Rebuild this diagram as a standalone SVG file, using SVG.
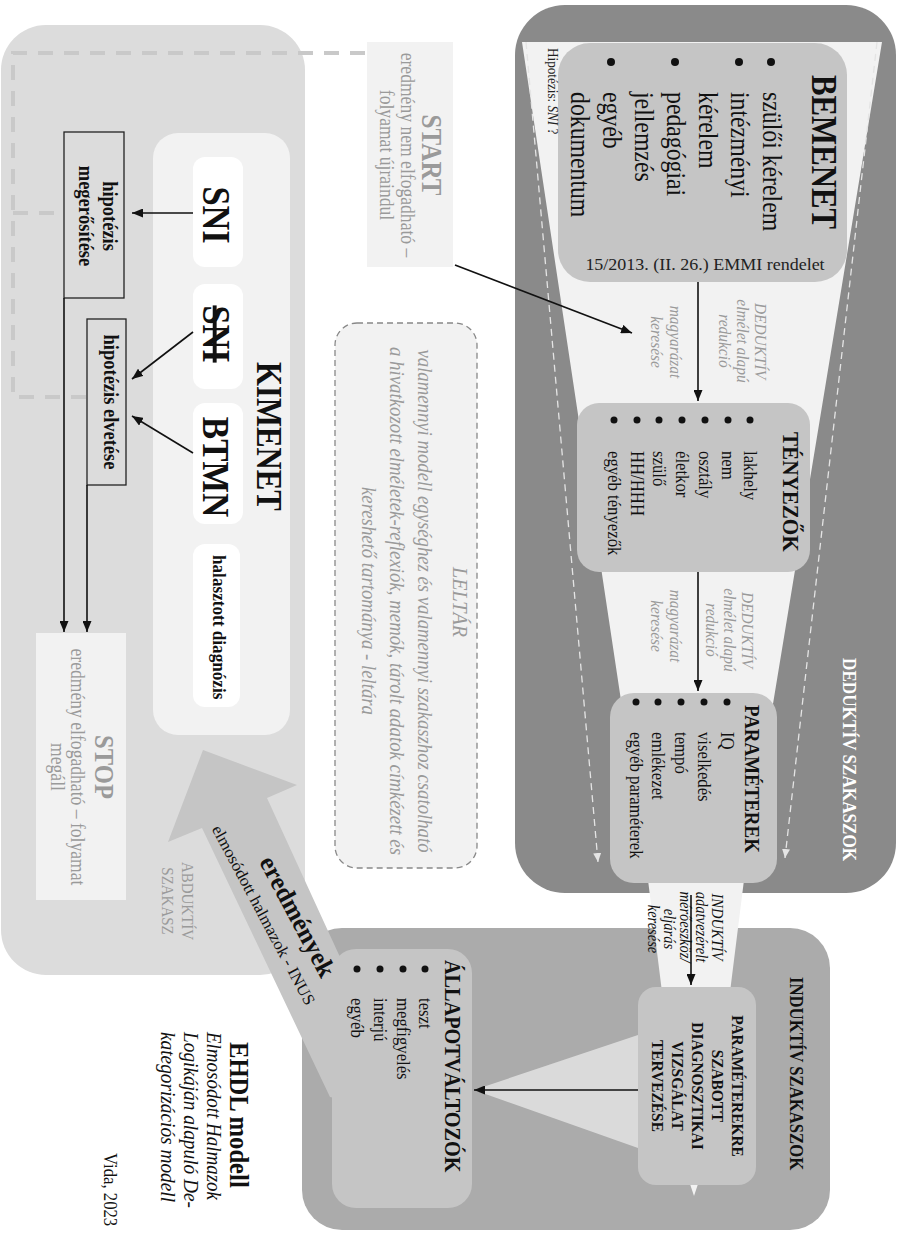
<svg xmlns="http://www.w3.org/2000/svg" width="899" height="1234" viewBox="0 0 899 1234">
<style>
.t{font-family:"Liberation Serif","Times New Roman",serif}
.b{font-weight:bold}
.i{font-style:italic}
.g{fill:#9a9a9a}
.k{fill:#111}
.ln{stroke:#111;stroke-width:1.6;fill:none}
.wd{stroke:#e4e4e4;stroke-width:1.3;stroke-dasharray:7 5;fill:none}
.gd{stroke:#c9c9c9;stroke-width:4;stroke-dasharray:15 11;fill:none}
.node{fill:#c5c5c5}
.wbox{fill:#ffffff}
.hbox{fill:none;stroke:#222;stroke-width:1.3}
</style>
<defs>
<marker id="ah" viewBox="0 0 11 9" refX="11" refY="4.5" markerWidth="11" markerHeight="9" markerUnits="userSpaceOnUse" orient="auto"><path d="M0,0 L11,4.5 L0,9 z" fill="#111"/></marker>
<marker id="wah" viewBox="0 0 9 8" refX="9" refY="4" markerWidth="9" markerHeight="8" markerUnits="userSpaceOnUse" orient="auto"><path d="M0,0 L9,4 L0,8 z" fill="#e4e4e4"/></marker>
</defs>

<!-- ABDUKTIV phase background -->
<g id="abduktiv-phase">
<rect x="1" y="25" width="304" height="950" rx="45" fill="#dcdcdc"/>
<text class="t g" font-size="17" text-anchor="middle" transform="translate(182 901) rotate(90) scale(.88 1)">ABDUKTÍV</text>
<text class="t g" font-size="17" text-anchor="middle" transform="translate(162 901) rotate(90) scale(.88 1)">SZAKASZ</text>
</g>

<!-- DEDUKTIV phase -->
<g id="deduktiv-phase">
<rect x="515" y="5" width="381" height="888" rx="50" fill="#8a8a8a"/>
<text class="t b" font-size="19.5" fill="#fff" transform="translate(843 658) rotate(90) scale(.88 1)">DEDUKTÍV SZAKASZOK</text>
</g>

<!-- INDUKTIV phase -->
<g id="induktiv-phase">
<rect x="302" y="928" width="528" height="302" rx="40" fill="#ababab"/>
<text class="t b k" font-size="19" transform="translate(790 977) rotate(90) scale(.88 1)">INDUKTÍV SZAKASZOK</text>
</g>

<!-- funnel -->
<g id="funnel">
<polygon points="522,42 882,42 744,880 730,992 662,992 648,880" fill="#f2f2f2"/>
<polygon points="690,1184 698,1184 694,1196" fill="#f2f2f2"/>
<polygon points="638,1035 638,1148 474,1090" fill="#dadada"/>
<line class="wd" x1="526" y1="42" x2="598" y2="862" marker-end="url(#wah)"/>
<line class="wd" x1="877" y1="42" x2="785" y2="858" marker-end="url(#wah)"/>
<text class="t i g" font-size="17.5" text-anchor="middle" transform="translate(755 341) rotate(90) scale(.88 1)">DEDUKTÍV</text>
<text class="t i g" font-size="17.5" text-anchor="middle" transform="translate(737 341) rotate(90) scale(.88 1)">elmélet alapú</text>
<text class="t i g" font-size="17.5" text-anchor="middle" transform="translate(719 341) rotate(90) scale(.88 1)">redukció</text>
<text class="t i g" font-size="17.5" text-anchor="middle" transform="translate(670 342) rotate(90) scale(.88 1)">magyarázat</text>
<text class="t i g" font-size="17.5" text-anchor="middle" transform="translate(651 342) rotate(90) scale(.88 1)">keresése</text>
<text class="t i g" font-size="17.5" text-anchor="middle" transform="translate(742 630) rotate(90) scale(.88 1)">DEDUKTÍV</text>
<text class="t i g" font-size="17.5" text-anchor="middle" transform="translate(724 630) rotate(90) scale(.88 1)">elmélet alapú</text>
<text class="t i g" font-size="17.5" text-anchor="middle" transform="translate(706 630) rotate(90) scale(.88 1)">redukció</text>
<text class="t i g" font-size="17.5" text-anchor="middle" transform="translate(670 626) rotate(90) scale(.88 1)">magyarázat</text>
<text class="t i g" font-size="17.5" text-anchor="middle" transform="translate(651 626) rotate(90) scale(.88 1)">keresése</text>
<text class="t i k" font-size="16.5" text-anchor="middle" transform="translate(712 927) rotate(90) scale(.88 1)">INDUKTÍV</text>
<text class="t i k" font-size="16.5" text-anchor="middle" transform="translate(696 927) rotate(90) scale(.88 1)">adatvezérelt</text>
<text class="t i k" font-size="16.5" text-anchor="middle" transform="translate(680 927) rotate(90) scale(.88 1)">mérőeszköz/</text>
<text class="t i k" font-size="16.5" text-anchor="middle" transform="translate(664 929) rotate(90) scale(.88 1)">eljárás</text>
<text class="t i k" font-size="16.5" text-anchor="middle" transform="translate(648 929) rotate(90) scale(.88 1)">keresése</text>
</g>

<!-- eredmenyek arrow -->
<g id="eredmenyek-arrow">
<polygon points="203,750 297,785 267,798 345,968 345,1100 330,1097 202,828 168,842" fill="#c5c5c5"/>
<text class="t b k" font-size="26" text-anchor="middle" textLength="133" lengthAdjust="spacingAndGlyphs" transform="translate(290 920.5) rotate(62)">eredmények</text>
<text class="t k" font-size="16.5" text-anchor="middle" textLength="201" lengthAdjust="spacingAndGlyphs" transform="translate(258.7 917.6) rotate(62)">elmosódott halmazok - INUS</text>
</g>

<!-- BEMENET -->
<g id="bemenet">
<rect class="node" x="558" y="43" width="289" height="239" rx="32"/>
<text class="t b k" font-size="35" transform="translate(812 75) rotate(90) scale(.88 1)">BEMENET</text>
<circle cx="771" cy="62" r="4" fill="#111"/>
<circle cx="739" cy="62" r="4" fill="#111"/>
<circle cx="675" cy="62" r="4" fill="#111"/>
<circle cx="611" cy="62" r="4" fill="#111"/>
<text class="t k" font-size="27" transform="translate(763 92) rotate(90) scale(.88 1)">szülői kérelem</text>
<text class="t k" font-size="27" transform="translate(731 92) rotate(90) scale(.88 1)">intézményi</text>
<text class="t k" font-size="27" transform="translate(699 92) rotate(90) scale(.88 1)">kérelem</text>
<text class="t k" font-size="27" transform="translate(667 92) rotate(90) scale(.88 1)">pedagógiai</text>
<text class="t k" font-size="27" transform="translate(635 92) rotate(90) scale(.88 1)">jellemzés</text>
<text class="t k" font-size="27" transform="translate(603 92) rotate(90) scale(.88 1)">egyéb</text>
<text class="t k" font-size="27" transform="translate(571 92) rotate(90) scale(.88 1)">dokumentum</text>
<text class="t" font-size="18" fill="#222" text-anchor="middle" transform="translate(705 270) scale(1 .9)">15/2013. (II. 26.) EMMI rendelet</text>
</g>
<g id="hipotezis-label">
<text class="t" font-size="15" fill="#222" transform="translate(548 48) rotate(90) scale(.88 1)">Hipotézis: <tspan font-style="italic">SNI</tspan> ?</text>
</g>

<!-- TENYEZOK -->
<g id="tenyezok">
<rect class="node" x="577" y="403" width="233" height="169" rx="22"/>
<text class="t b k" font-size="24" transform="translate(783 432) rotate(90) scale(.88 1)">TÉNYEZŐK</text>
<circle cx="750" cy="420" r="3.5" fill="#111"/>
<circle cx="728" cy="420" r="3.5" fill="#111"/>
<circle cx="705" cy="420" r="3.5" fill="#111"/>
<circle cx="682" cy="420" r="3.5" fill="#111"/>
<circle cx="659" cy="420" r="3.5" fill="#111"/>
<circle cx="637" cy="420" r="3.5" fill="#111"/>
<circle cx="614" cy="420" r="3.5" fill="#111"/>
<text class="t k" font-size="19" transform="translate(744 451) rotate(90) scale(.88 1)">lakhely</text>
<text class="t k" font-size="19" transform="translate(722 451) rotate(90) scale(.88 1)">nem</text>
<text class="t k" font-size="19" transform="translate(699 451) rotate(90) scale(.88 1)">osztály</text>
<text class="t k" font-size="19" transform="translate(676 451) rotate(90) scale(.88 1)">életkor</text>
<text class="t k" font-size="19" transform="translate(653 451) rotate(90) scale(.88 1)">szülő</text>
<text class="t k" font-size="19" transform="translate(631 451) rotate(90) scale(.88 1)">HH/HHH</text>
<text class="t k" font-size="19" transform="translate(608 451) rotate(90) scale(.88 1)">egyéb tényezők</text>
</g>

<!-- PARAMETEREK -->
<g id="parameterek">
<rect class="node" x="610" y="693" width="167" height="190" rx="24"/>
<text class="t b k" font-size="21.5" transform="translate(745 705) rotate(90) scale(.88 1)">PARAMÉTEREK</text>
<circle cx="727" cy="702" r="3.5" fill="#111"/>
<circle cx="704" cy="702" r="3.5" fill="#111"/>
<circle cx="681" cy="702" r="3.5" fill="#111"/>
<circle cx="658" cy="702" r="3.5" fill="#111"/>
<circle cx="636" cy="702" r="3.5" fill="#111"/>
<text class="t k" font-size="19" transform="translate(721 732) rotate(90) scale(.88 1)">IQ</text>
<text class="t k" font-size="19" transform="translate(698 732) rotate(90) scale(.88 1)">viselkedés</text>
<text class="t k" font-size="19" transform="translate(675 732) rotate(90) scale(.88 1)">tempó</text>
<text class="t k" font-size="19" transform="translate(652 732) rotate(90) scale(.88 1)">emlékezet</text>
<text class="t k" font-size="19" transform="translate(630 732) rotate(90) scale(.88 1)">egyéb paraméterek</text>
</g>

<!-- PARAMETEREKRE SZABOTT -->
<g id="parameterekre">
<rect class="node" x="638" y="987" width="118" height="198" rx="18"/>
<text class="t b k" font-size="17.5" text-anchor="middle" transform="translate(732 1086) rotate(90) scale(.88 1)">PARAMÉTEREKRE</text>
<text class="t b k" font-size="17.5" text-anchor="middle" transform="translate(712 1086) rotate(90) scale(.88 1)">SZABOTT</text>
<text class="t b k" font-size="17.5" text-anchor="middle" transform="translate(692 1086) rotate(90) scale(.88 1)">DIAGNOSZTIKAI</text>
<text class="t b k" font-size="17.5" text-anchor="middle" transform="translate(672 1086) rotate(90) scale(.88 1)">VIZSGÁLAT</text>
<text class="t b k" font-size="17.5" text-anchor="middle" transform="translate(652 1086) rotate(90) scale(.88 1)">TERVEZÉSE</text>
</g>

<!-- ALLAPOTVALTOZOK -->
<g id="allapotvaltozok">
<rect class="node" x="332" y="949" width="140" height="259" rx="24"/>
<text class="t b k" font-size="23" transform="translate(445 960) rotate(90) scale(.88 1)">ÁLLAPOTVÁLTOZÓK</text>
<circle cx="425" cy="969" r="3.5" fill="#111"/>
<circle cx="403" cy="969" r="3.5" fill="#111"/>
<circle cx="380" cy="969" r="3.5" fill="#111"/>
<circle cx="357" cy="969" r="3.5" fill="#111"/>
<text class="t k" font-size="19" transform="translate(419 998) rotate(90) scale(.88 1)">teszt</text>
<text class="t k" font-size="19" transform="translate(397 998) rotate(90) scale(.88 1)">megfigyelés</text>
<text class="t k" font-size="19" transform="translate(374 998) rotate(90) scale(.88 1)">interjú</text>
<text class="t k" font-size="19" transform="translate(351 998) rotate(90) scale(.88 1)">egyéb</text>
</g>

<!-- KIMENET -->
<g id="kimenet">
<rect x="153" y="133" width="137" height="602" rx="25" fill="#f2f2f2"/>
<text class="t b k" font-size="35" transform="translate(257 362) rotate(90) scale(.88 1)">KIMENET</text>
</g>
<g id="sni">
<rect class="wbox" x="193" y="157" width="50" height="110" rx="12"/>
<text class="t b k" font-size="39" text-anchor="middle" transform="translate(203 215) rotate(90) scale(.88 1)">SNI</text>
</g>
<g id="sni-elvetett">
<rect class="wbox" x="193" y="284" width="50" height="105" rx="12"/>
<text class="t b k" font-size="39" text-anchor="middle" style="text-decoration:line-through" transform="translate(203 334) rotate(90) scale(.88 1)">SNI</text>
</g>
<g id="btmn">
<rect class="wbox" x="193" y="403" width="50" height="121" rx="12"/>
<text class="t b k" font-size="38" text-anchor="middle" transform="translate(203 467) rotate(90) scale(.88 1)">BTMN</text>
</g>
<g id="halasztott">
<rect class="wbox" x="193" y="544" width="47" height="163" rx="12"/>
<text class="t b k" font-size="19.5" transform="translate(213 555) rotate(90) scale(.88 1)">halasztott diagnózis</text>
</g>

<!-- hypothesis boxes -->
<g id="hip-megerosites">
<rect class="hbox" x="64" y="132" width="60" height="166"/>
<text class="t b k" font-size="21" text-anchor="middle" transform="translate(103 216) rotate(90) scale(.88 1)">hipotézis</text>
<text class="t b k" font-size="21" text-anchor="middle" transform="translate(79 216) rotate(90) scale(.88 1)">megerősítése</text>
</g>
<g id="hip-elvetes">
<rect class="hbox" x="87" y="319" width="39" height="166"/>
<text class="t b k" font-size="21" text-anchor="middle" transform="translate(104 402) rotate(90) scale(.88 1)">hipotézis elvetése</text>
</g>

<!-- START / STOP -->
<g id="start">
<rect x="367" y="42" width="86" height="225" fill="#f2f2f2"/>
<text class="t b g" font-size="28.5" text-anchor="middle" transform="translate(422 155) rotate(90) scale(.88 1)">START</text>
<text class="t g" font-size="20" text-anchor="middle" transform="translate(401 155) rotate(90) scale(.88 1)">eredmény nem elfogadható –</text>
<text class="t g" font-size="20" text-anchor="middle" transform="translate(380 155) rotate(90) scale(.88 1)">folyamat újraindul</text>
</g>
<g id="stop">
<rect x="36" y="633" width="90" height="267" fill="#f2f2f2"/>
<text class="t b g" font-size="28" text-anchor="middle" transform="translate(95 767) rotate(90) scale(.88 1)">STOP</text>
<text class="t g" font-size="20" text-anchor="middle" transform="translate(71 767) rotate(90) scale(.88 1)">eredmény elfogadható – folyamat</text>
<text class="t g" font-size="20" text-anchor="middle" transform="translate(51 767) rotate(90) scale(.88 1)">megáll</text>
</g>

<!-- LELTAR -->
<g id="leltar">
<rect x="335" y="323" width="142" height="545" rx="22" fill="#f2f2f2" stroke="#888" stroke-width="1.3" stroke-dasharray="6 4"/>
<text class="t i g" font-size="20" text-anchor="middle" textLength="70" lengthAdjust="spacingAndGlyphs" transform="translate(453 602) rotate(90)">LELTÁR</text>
<text class="t i g" font-size="20" text-anchor="middle" textLength="503" lengthAdjust="spacingAndGlyphs" transform="translate(418 601) rotate(90)">valamennyi modell egységhez és valamennyi szakaszhoz csatolható</text>
<text class="t i g" font-size="20" text-anchor="middle" textLength="508" lengthAdjust="spacingAndGlyphs" transform="translate(390 601) rotate(90)">a hivatkozott elméletek-reflexiók, memók, tárolt adatok címkézett és</text>
<text class="t i g" font-size="20" text-anchor="middle" textLength="228" lengthAdjust="spacingAndGlyphs" transform="translate(362 601) rotate(90)">kereshető tartománya - leltára</text>
</g>

<!-- connectors -->
<g id="connectors">
<path class="gd" d="M365 53 H13 V397 H87"/>
<path class="gd" d="M13 213 H64"/>
<line class="ln" x1="698" y1="282" x2="698" y2="401" marker-end="url(#ah)"/>
<line class="ln" x1="698" y1="572" x2="698" y2="691" marker-end="url(#ah)"/>
<line class="ln" x1="455" y1="265" x2="632" y2="333" marker-end="url(#ah)"/>
<line class="ln" x1="691" y1="895" x2="691" y2="985" marker-end="url(#ah)"/>
<line class="ln" x1="638" y1="1090" x2="474" y2="1090" marker-end="url(#ah)"/>
<line class="ln" x1="193" y1="213" x2="132" y2="213" marker-end="url(#ah)"/>
<line class="ln" x1="193" y1="332" x2="132" y2="379" marker-end="url(#ah)"/>
<line class="ln" x1="193" y1="453" x2="132" y2="416" marker-end="url(#ah)"/>
<line class="ln" x1="64" y1="298" x2="64" y2="632" marker-end="url(#ah)"/>
<line class="ln" x1="87" y1="485" x2="87" y2="632" marker-end="url(#ah)"/>
</g>

<!-- title / author -->
<g id="title">
<text class="t b k" font-size="28" transform="translate(230 1042) rotate(90) scale(.88 1)">EHDL modell</text>
<text class="t i k" font-size="21" textLength="168" lengthAdjust="spacingAndGlyphs" transform="translate(207 1032) rotate(90)">Elmosódott Halmazok</text>
<text class="t i k" font-size="21" textLength="176" lengthAdjust="spacingAndGlyphs" transform="translate(184 1032) rotate(90)">Logikáján alapuló De-</text>
<text class="t i k" font-size="21" textLength="170" lengthAdjust="spacingAndGlyphs" transform="translate(161 1032) rotate(90)">kategorizációs modell</text>
</g>
<g id="author">
<text class="t k" font-size="19" transform="translate(104 1153) rotate(90) scale(.88 1)">Vida, 2023</text>
</g>
</svg>
